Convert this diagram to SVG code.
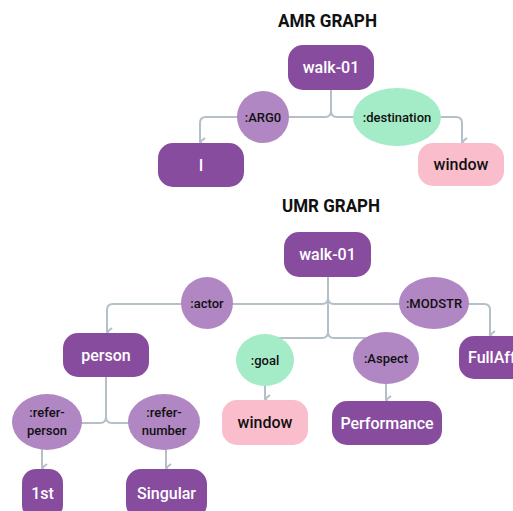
<svg xmlns="http://www.w3.org/2000/svg" width="513" height="511" viewBox="0 0 513 511">
<style>
.title{font-family:Roboto,"Liberation Sans",sans-serif;font-weight:bold;font-size:19px;fill:#111;text-anchor:middle}
.node{fill:#884c9f}
.pink{fill:#f9bdcb}
.lab{fill:#b086c3}
.mint{fill:#a4ebc8}
.nt{font-family:Roboto,"Liberation Sans",sans-serif;font-size:16px;font-weight:500;fill:#fff;text-anchor:middle}
.nt.dark{fill:#111}
.lt{font-family:Roboto,"Liberation Sans",sans-serif;font-size:13px;font-weight:500;fill:#111;text-anchor:middle}
.edge{fill:none;stroke:#b3c0c7;stroke-width:2}
</style>
<defs>
<marker id="arr" viewBox="0 0 10 10" refX="5" refY="9" markerWidth="10" markerHeight="10" markerUnits="userSpaceOnUse" orient="auto-start-reverse">
<path d="M1,4 L5,9 L9,4" fill="none" stroke="#b3c0c7" stroke-width="2"/>
</marker>
</defs>
<rect width="513" height="511" fill="#fff"/>
<text class="title" x="327.5" y="27" textLength="99" lengthAdjust="spacingAndGlyphs">AMR GRAPH</text>
<text class="title" x="331" y="212" textLength="98" lengthAdjust="spacingAndGlyphs">UMR GRAPH</text>
<g id="connectors">
<path class="edge" marker-end="url(#arr)" d="M331,90 V111 Q331,117 325,117 H206 Q200,117 200,123 V142"/>
<path class="edge" marker-end="url(#arr)" d="M331,90 V111 Q331,117 337,117 H456 Q462,117 462,123 V142"/>
<path class="edge" marker-end="url(#arr)" d="M328,277 V298 Q328,304 322,304 H113 Q107,304 107,310 V332"/>
<path class="edge" marker-end="url(#arr)" d="M328,277 V298 Q328,304 334,304 H484 Q490,304 490,310 V335"/>
<path class="edge" marker-end="url(#arr)" d="M328,277 V332 Q328,338 322,338 H271 Q265,338 265,344 V399"/>
<path class="edge" marker-end="url(#arr)" d="M328,277 V332 Q328,338 334,338 H380 Q386,338 386,344 V400"/>
<path class="edge" marker-end="url(#arr)" d="M106,377 V417 Q106,423 100,423 H48 Q42,423 42,429 V468"/>
<path class="edge" marker-end="url(#arr)" d="M106,377 V417 Q106,423 112,423 H160 Q166,423 166,429 V468"/>
</g>
<g id="amr-walk"><rect class="node" x="288" y="45" width="86" height="45" rx="15"/><text class="nt" x="331" y="73">walk-01</text></g>
<g id="amr-arg0"><circle class="lab" cx="263" cy="117" r="26"/><text class="lt" x="263" y="122">:ARG0</text></g>
<g id="amr-dest"><ellipse class="mint" cx="397" cy="117" rx="44" ry="29"/><text class="lt" x="397" y="122">:destination</text></g>
<g id="amr-i"><rect class="node" x="158" y="143" width="86" height="44" rx="15"/><text class="nt" x="201" y="171">I</text></g>
<g id="amr-window"><rect class="pink" x="418" y="143" width="86" height="43" rx="15"/><text class="nt dark" x="461" y="170">window</text></g>
<g id="umr-walk"><rect class="node" x="284" y="232" width="87" height="45" rx="15"/><text class="nt" x="327.5" y="260">walk-01</text></g>
<g id="umr-actor"><circle class="lab" cx="207" cy="303" r="26"/><text class="lt" x="207" y="308">:actor</text></g>
<g id="umr-modstr"><ellipse class="lab" cx="434" cy="303" rx="35" ry="26"/><text class="lt" x="434" y="308">:MODSTR</text></g>
<g id="umr-person"><rect class="node" x="63" y="333" width="86" height="44" rx="15"/><text class="nt" x="106" y="361">person</text></g>
<g id="umr-goal"><ellipse class="mint" cx="265" cy="360" rx="29" ry="26"/><text class="lt" x="265" y="365">:goal</text></g>
<g id="umr-aspect"><ellipse class="lab" cx="386" cy="358" rx="33" ry="26"/><text class="lt" x="386" y="363">:Aspect</text></g>
<g id="umr-fullaff"><rect class="node" x="459" y="336" width="90" height="43" rx="15"/><text class="nt" x="468" y="363" style="text-anchor:start">FullAff</text></g>
<g id="umr-window"><rect class="pink" x="222" y="400" width="86" height="45" rx="15"/><text class="nt dark" x="265" y="428">window</text></g>
<g id="umr-performance"><rect class="node" x="332" y="401" width="110" height="44" rx="15"/><text class="nt" x="387" y="429">Performance</text></g>
<g id="umr-refer-person"><ellipse class="lab" cx="47" cy="422" rx="35" ry="28"/><text class="lt" x="47" y="417">:refer-</text><text class="lt" x="47" y="435">person</text></g>
<g id="umr-refer-number"><ellipse class="lab" cx="164" cy="422" rx="36" ry="28"/><text class="lt" x="164" y="417">:refer-</text><text class="lt" x="164" y="435">number</text></g>
<g id="umr-1st"><rect class="node" x="22" y="469" width="41" height="50" rx="14"/><text class="nt" x="42.5" y="499">1st</text></g>
<g id="umr-singular"><rect class="node" x="126" y="469" width="81" height="50" rx="15"/><text class="nt" x="166.5" y="499">Singular</text></g>
</svg>
